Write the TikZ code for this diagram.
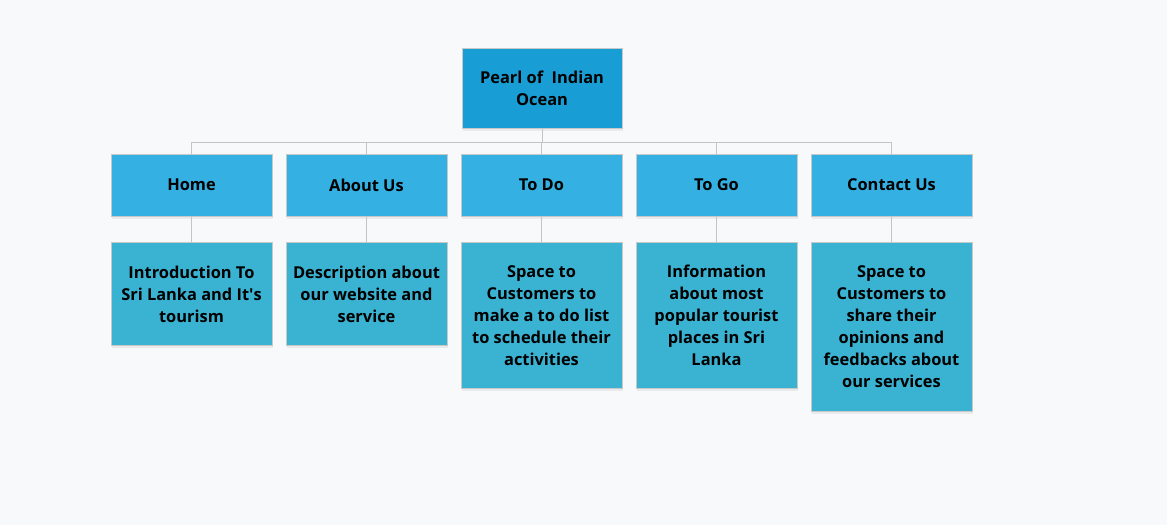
\documentclass[tikz,border=0pt]{standalone}
\usepackage{fontspec}
\setmainfont{Open Sans}
\usetikzlibrary{shadows}
\definecolor{bgc}{HTML}{F8F9FB}
\definecolor{rootc}{HTML}{189DD4}
\definecolor{menuc}{HTML}{34B0E2}
\definecolor{infoc}{HTML}{3AB2D2}
\definecolor{edgec}{HTML}{C8C8C8}
\definecolor{linkc}{HTML}{C4C4C4}
\begin{document}
\begin{tikzpicture}[x=1pt,y=-1pt,
  box/.style={draw=edgec, line width=0.8pt, minimum width=161pt, align=center,
    font=\fontsize{16.4}{22}\selectfont\bfseries, text=black, inner sep=0pt,
    drop shadow={opacity=0.12, shadow xshift=0.5pt, shadow yshift=-2.5pt}},
  rootbox/.style={box, fill=rootc, minimum width=160pt, minimum height=80pt},
  menubox/.style={box, fill=menuc, minimum height=62pt},
  infobox/.style={box, fill=infoc, anchor=north},
  link/.style={draw=linkc, line width=0.9pt}]
\fill[bgc] (0,0) rectangle (1167,525);
\useasboundingbox (0,0) rectangle (1167,525);

% root
\node[rootbox] (root) at (542,88) {Pearl of~~Indian\\Ocean};

% menu row
\node[menubox] (home)    at (191.5,185) {Home};
\node[menubox] (about)   at (366.5,185) {About Us};
\node[menubox] (todo)    at (541.5,185) {To Do};
\node[menubox] (togo)    at (716.5,185) {To Go};
\node[menubox] (contact) at (891.5,185) {Contact Us};

% description row
\node[infobox, minimum height=103pt] (homeI) at (191.5,242)
  {Introduction To\\Sri Lanka and It\textquotesingle s\\tourism};
\node[infobox, minimum height=103pt] (aboutI) at (366.5,242)
  {Description about\\our website and\\service};
\node[infobox, minimum height=146pt] (todoI) at (541.5,242)
  {Space to\\Customers to\\make a to do list\\to schedule their\\activities};
\node[infobox, minimum height=146pt] (togoI) at (716.5,242)
  {Information\\about most\\popular tourist\\places in Sri\\Lanka};
\node[infobox, minimum height=169pt] (contactI) at (891.5,242)
  {Space to\\Customers to\\share their\\opinions and\\feedbacks about\\our services};

% connectors
\coordinate (bar) at (0,142);
\foreach \n in {home,about,todo,togo,contact}
  \draw[link] (\n.north) -- (\n.north |- bar);
\draw[link] (home.north |- bar) -- (contact.north |- bar);
\draw[link] (root.south) -- (root.south |- bar);
\draw[link] (home.south) -- (homeI.north);
\draw[link] (about.south) -- (aboutI.north);
\draw[link] (todo.south) -- (todoI.north);
\draw[link] (togo.south) -- (togoI.north);
\draw[link] (contact.south) -- (contactI.north);
\end{tikzpicture}
\end{document}
